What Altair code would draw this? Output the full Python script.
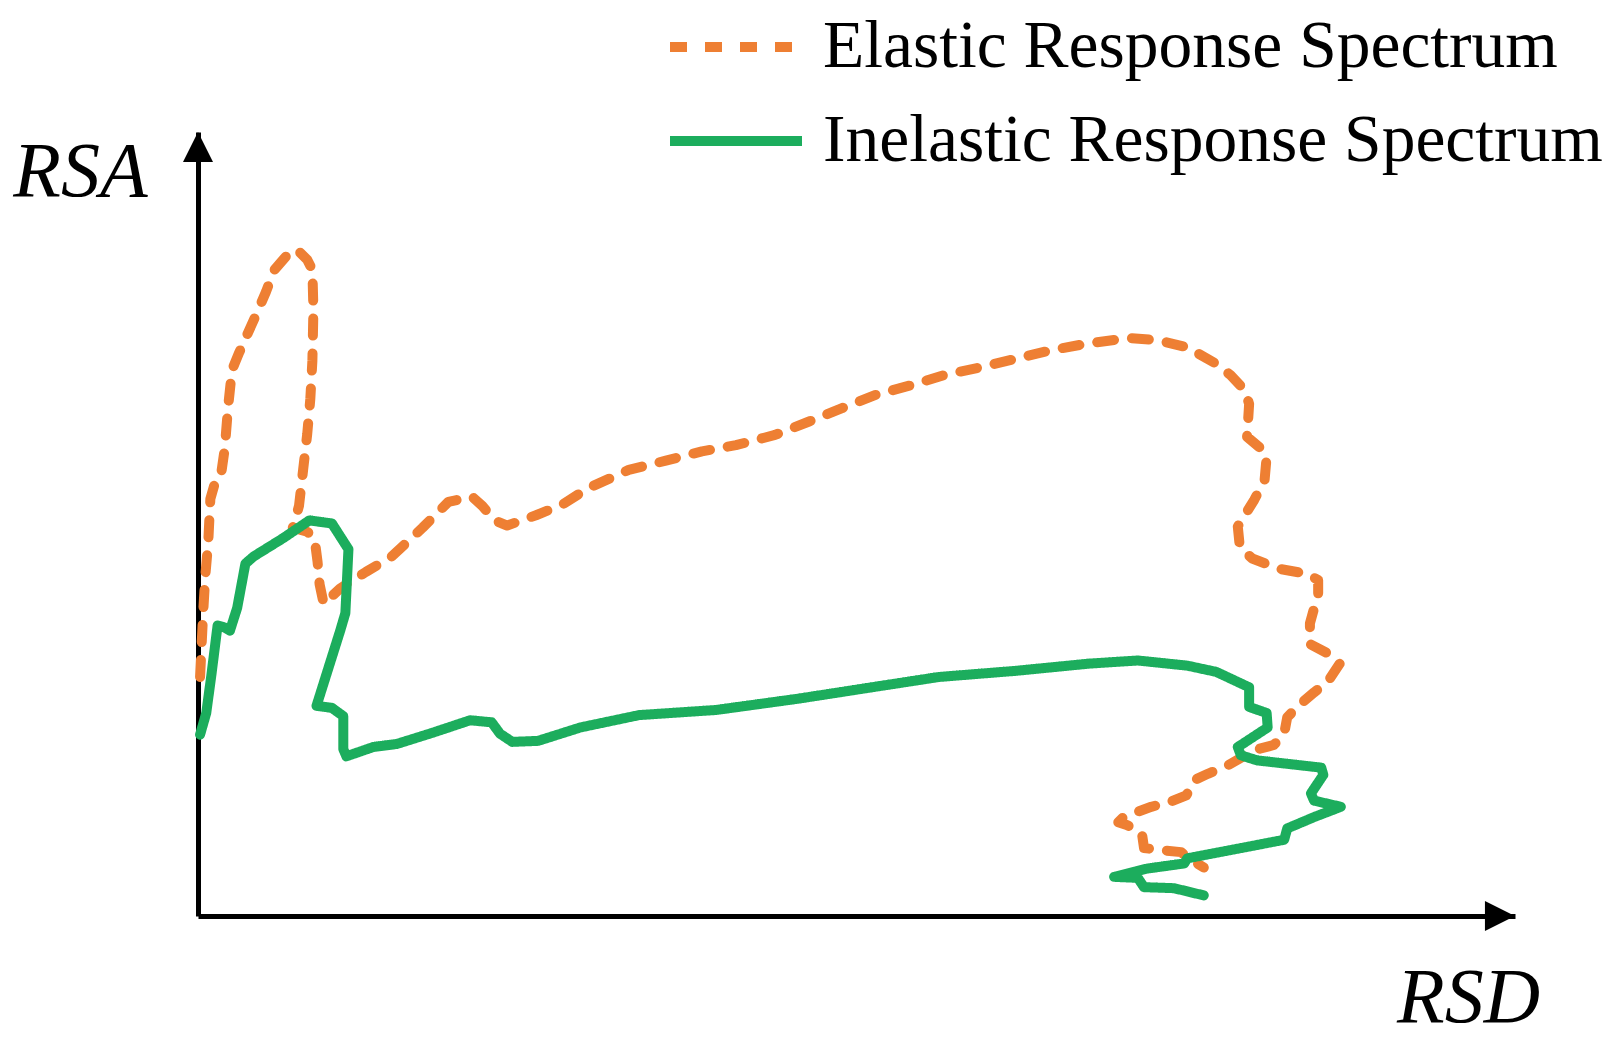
import altair as alt
import pandas as pd

# Values (units: picture pixels from the origin)
series_names = ["Elastic Response Spectrum", "Inelastic Response Spectrum"]

elastic_x = [2, 5, 7, 10, 12, 16, 22, 26, 29, 33, 40, 48, 57, 66, 74, 86, 96, 106, 111, 112,
             111, 109, 106, 102, 98, 92, 106, 113, 116, 118, 122, 138, 163, 188, 218, 243, 266,
             276, 288, 300, 328, 353, 378, 418, 454, 489, 522, 560, 593, 625, 658, 691, 724,
             761, 794, 827, 865, 903, 931, 960, 988, 1002, 1016, 1020, 1018, 1030, 1037, 1035,
             1025, 1009, 1011, 1023, 1049, 1077, 1087, 1087, 1079, 1079, 1096, 1108, 1096, 1083,
             1070, 1057, 1054, 1044, 1025, 999, 980, 967, 959, 944, 925, 898, 893, 902, 916,
             918, 934, 954, 960, 976]
elastic_y = [232, 294, 329, 364, 405, 419, 426, 454, 492, 530, 547, 565, 585, 606, 627, 641, 647,
             637, 627, 589, 539, 502, 468, 433, 398, 377, 373, 367, 344, 322, 303, 318, 334, 349,
             377, 402, 407, 398, 384, 379, 389, 399, 415, 433, 442, 451, 457, 467, 480, 493, 506,
             515, 525, 533, 541, 549, 556, 561, 559, 552, 536, 525, 510, 497, 465, 455, 446, 423,
             404, 378, 358, 347, 337, 332, 326, 313, 284, 264, 255, 245, 227, 217, 206, 193, 177,
             166, 161, 146, 138, 132, 117, 111, 106, 96, 91, 88, 80, 66, 64, 62, 57, 47]

inelastic_x = [2, 8, 13, 19, 26, 31, 38, 46, 54, 83, 108, 130, 146, 143, 138, 115, 130, 141, 141,
               144, 170, 193, 228, 264, 285, 293, 305, 330, 371, 428, 503, 583, 654, 719, 794,
               865, 912, 960, 988, 1020, 1020, 1037, 1038, 1009, 1012, 1028, 1090, 1092, 1080,
               1083, 1109, 1083, 1057, 1054, 1002, 960, 957, 921, 889, 912, 918, 947, 976]
inelastic_y = [176, 197, 234, 282, 280, 277, 299, 342, 349, 367, 384, 381, 356, 294, 277, 204, 202,
               194, 162, 155, 164, 167, 178, 190, 188, 177, 169, 170, 183, 195, 200, 211, 222, 232,
               238, 245, 248, 243, 237, 222, 203, 197, 183, 164, 156, 151, 144, 137, 119, 112, 106,
               96, 85, 74, 64, 56, 51, 46, 38, 37, 28, 27, 20]

axis_max_x = 1278
axis_max_y = 761
arrow_half = 14.6

ORANGE = "#EE7F33"
GREEN = "#1CAD5D"

rows = []
for name, xs, ys in [(series_names[0], elastic_x, elastic_y),
                     (series_names[1], inelastic_x, inelastic_y)]:
    for i, (xv, yv) in enumerate(zip(xs, ys)):
        rows.append({"series": name, "idx": i, "x": xv, "y": yv})
df = pd.DataFrame(rows)

xscale = alt.Scale(domain=[0, axis_max_x], nice=False, zero=False)
yscale = alt.Scale(domain=[0, axis_max_y], nice=False, zero=False)

x_axis = alt.Axis(title="RSD", titleX=1270, titleY=82, titleAngle=0, titleAlign="center",
                  titleBaseline="middle", titleFont="Liberation Serif", titleFontStyle="italic",
                  titleFontWeight="normal", titleFontSize=78, titleColor="black",
                  ticks=False, labels=False, grid=False, domainColor="black", domainWidth=5)
y_axis = alt.Axis(title="RSA", titleX=-118, titleY=40, titleAngle=0, titleAlign="center",
                  titleBaseline="middle", titleFont="Liberation Serif", titleFontStyle="italic",
                  titleFontWeight="normal", titleFontSize=78, titleColor="black",
                  ticks=False, labels=False, grid=False, domainColor="black", domainWidth=5)

legend = alt.Legend(title=None, orient="none", legendX=503, legendY=-120,
                    labelFont="Liberation Serif", labelFontSize=67.5, labelColor="black",
                    labelLimit=2000, symbolType="M-2.2,0H2.2", symbolSize=3600,
                    symbolStrokeWidth=10, labelOffset=52, rowPadding=25)

lines = alt.Chart(df).mark_line(strokeWidth=10, strokeCap="round", strokeJoin="round").encode(
    x=alt.X("x:Q", scale=xscale, axis=x_axis),
    y=alt.Y("y:Q", scale=yscale, axis=y_axis),
    color=alt.Color("series:N", scale=alt.Scale(domain=series_names, range=[ORANGE, GREEN]),
                    legend=legend),
    strokeDash=alt.StrokeDash("series:N",
                              scale=alt.Scale(domain=series_names, range=[[17, 18], [1, 0]]),
                              legend=legend),
    order="idx:Q",
)

arrow_up = alt.Chart(pd.DataFrame({"x": [0], "y": [axis_max_y - arrow_half]})).mark_point(
    shape="M0,-1L1,1L-1,1Z", size=900, filled=True, color="black", opacity=1, strokeWidth=0
).encode(x=alt.X("x:Q", scale=xscale, axis=x_axis), y=alt.Y("y:Q", scale=yscale, axis=y_axis))

arrow_right = alt.Chart(pd.DataFrame({"x": [axis_max_x - arrow_half], "y": [0]})).mark_point(
    shape="M1,0L-1,-1L-1,1Z", size=900, filled=True, color="black", opacity=1, strokeWidth=0
).encode(x=alt.X("x:Q", scale=xscale, axis=x_axis), y=alt.Y("y:Q", scale=yscale, axis=y_axis))

chart = alt.layer(lines, arrow_up, arrow_right).properties(
    width=1317, height=784,
    padding={"left": 190, "top": 124, "right": 91, "bottom": 124},
    autosize=alt.AutoSizeParams(type="none"),
    background="white",
).configure_view(stroke=None)

chart.save("out.html", embed_options={"renderer": "svg", "actions": False})
